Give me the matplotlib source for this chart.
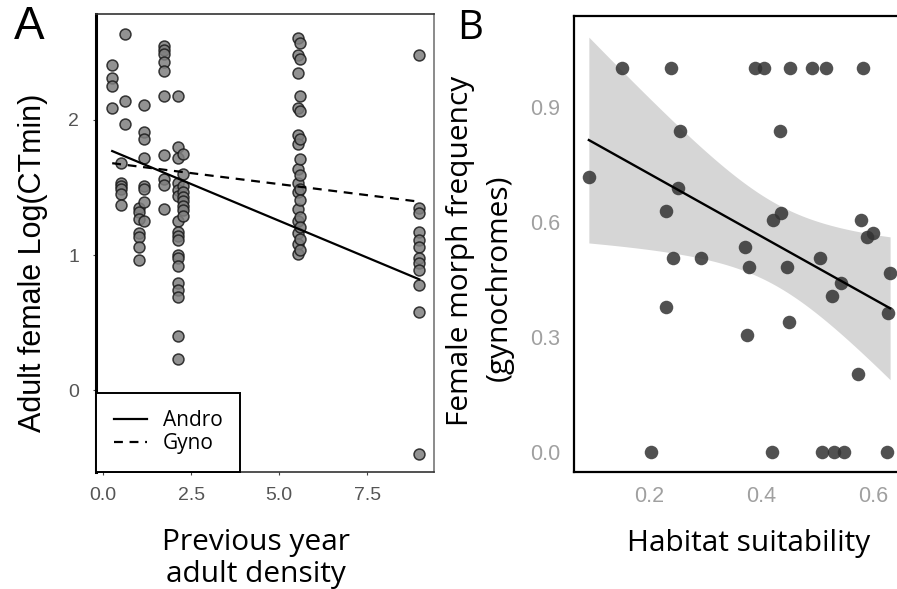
import matplotlib
matplotlib.use("Agg")
import matplotlib.pyplot as plt
from matplotlib.lines import Line2D
import numpy as np

# ---- panel A: previous year density vs Log(CTmin) ----
dens_cols = [0.25, 0.51, 0.61, 1.01, 1.17, 1.74, 2.12, 2.28, 5.53, 5.6, 8.96]
ctmin_cols = [
    [2.41, 2.31, 2.25, 2.09],
    [1.68, 1.53, 1.51, 1.49, 1.45, 1.37],
    [2.64, 2.14, 1.97],
    [1.35, 1.32, 1.27, 1.16, 1.13, 1.06, 0.96],
    [2.11, 1.91, 1.86, 1.72, 1.51, 1.49, 1.39, 1.25],
    [2.55, 2.52, 2.49, 2.43, 2.36, 2.18, 1.74, 1.56, 1.52, 1.34],
    [2.18, 1.80, 1.72, 1.53, 1.48, 1.44, 1.25, 1.17, 1.14, 1.11, 1.00, 0.98,
     0.92, 0.79, 0.74, 0.69, 0.40, 0.23],
    [1.75, 1.60, 1.51, 1.47, 1.43, 1.40, 1.36, 1.33, 1.29],
    [2.605, 2.48, 2.35, 2.09, 1.89, 1.82, 1.64, 1.53, 1.47, 1.34, 1.25, 1.16,
     1.08, 1.01],
    [2.57, 2.45, 2.18, 2.07, 1.86, 1.71, 1.59, 1.49, 1.41, 1.28, 1.21, 1.12,
     1.04],
    [2.48, 1.35, 1.31, 1.17, 1.11, 1.06, 0.98, 0.94, 0.89, 0.78, 0.58, -0.47],
]
# fitted morph lines (ends)
fit_x = [0.26, 8.98]
andro_y = [1.77, 0.82]
gyno_y = [1.68, 1.395]

# ---- panel B: habitat suitability vs gynochrome frequency ----
habitat = [0.151, 0.238, 0.389, 0.405, 0.451, 0.491, 0.515, 0.582,
           0.255, 0.433, 0.092, 0.252, 0.229, 0.435, 0.420, 0.578,
           0.599, 0.588, 0.243, 0.292, 0.371, 0.378, 0.446, 0.505,
           0.630, 0.542, 0.527, 0.229, 0.627, 0.449, 0.374, 0.572,
           0.203, 0.419, 0.508, 0.530, 0.548, 0.625]
gyno_freq = [1.0, 1.0, 1.0, 1.0, 1.0, 1.0, 1.0, 1.0,
             0.837, 0.837, 0.717, 0.687, 0.629, 0.622, 0.605, 0.605,
             0.570, 0.559, 0.504, 0.504, 0.533, 0.481, 0.483, 0.504,
             0.465, 0.441, 0.406, 0.378, 0.361, 0.337, 0.304, 0.203,
             0.0, 0.0, 0.0, 0.0, 0.0, 0.0]
# model line ends as drawn in the figure
fitB_x = [0.092, 0.630]
fitB_y = [0.813, 0.374]

W, H = 897, 589
fig = plt.figure(figsize=(W / 100, H / 100), dpi=100)
lab_font = "Open Sans"
tick_font = "Liberation Sans"
lab_size = 21.5

# panel A
axA = fig.add_axes([96 / W, 1 - 472 / H, 338 / W, 458 / H])
for x, ys in zip(dens_cols, ctmin_cols):
    axA.scatter([x] * len(ys), ys, s=62, facecolor="#7f7f7f", edgecolor="#1a1a1a",
                linewidths=1.1, alpha=0.85, zorder=3)
axA.plot(fit_x, andro_y, color="black", lw=1.6, zorder=4)
axA.plot(fit_x, gyno_y, color="black", lw=1.6, ls=(0, (4, 3)), zorder=4)
axA.set_xlim(-0.2, 9.4)
axA.set_ylim(-0.607, 2.785)
axA.set_xticks([0, 2.5, 5, 7.5])
axA.set_xticklabels(["0.0", "2.5", "5.0", "7.5"])
axA.set_yticks([0, 1, 2])
axA.tick_params(length=2, width=0.8, color="#444", labelsize=14, labelcolor="#555")
axA.tick_params(axis="y", pad=10)
axA.tick_params(axis="x", pad=9)
for lbl in axA.get_xticklabels() + axA.get_yticklabels():
    lbl.set_fontfamily(tick_font)
axA.spines["left"].set_linewidth(2.2)
axA.spines["left"].set_color("black")
for sp in ["top", "bottom"]:
    axA.spines[sp].set_linewidth(1.2)
    axA.spines[sp].set_color("#333")
axA.spines["right"].set_linewidth(1.2)
axA.spines["right"].set_color("#777")
fig.text(33 / W, 1 - 263 / H, "Adult female Log(CTmin)", fontsize=22, family=tick_font,
         rotation=90, ha="center", va="center")
fig.text(255.5 / W, 1 - 550 / H, "Previous year", fontsize=lab_size, family=lab_font,
         ha="center", va="baseline")
fig.text(255.5 / W, 1 - 582 / H, "adult density", fontsize=lab_size, family=lab_font,
         ha="center", va="baseline")
handles = [Line2D([], [], color="black", lw=1.6),
           Line2D([], [], color="black", lw=1.6, ls=(0, (4, 3)))]
leg = axA.legend(handles, ["Andro", "Gyno"], loc="lower left", bbox_to_anchor=(0, 0),
                 borderaxespad=0, fancybox=False, edgecolor="black", framealpha=1,
                 prop={"family": lab_font, "size": 15}, handlelength=1.6,
                 borderpad=0.85, labelspacing=0.1, handletextpad=0.75)
leg.get_frame().set_linewidth(1.4)
fig.text(29 / W, 1 - 27 / H, "A", fontsize=33, family=tick_font, ha="center", va="center")

# panel B (right edge cropped by the figure like the original)
axB = fig.add_axes([574.3 / W, 1 - 472.3 / H, (905 - 574.3) / W, 456.6 / H])
hx = np.array(habitat)
hy = np.array(gyno_freq)
slope = (fitB_y[1] - fitB_y[0]) / (fitB_x[1] - fitB_x[0])
icpt = fitB_y[0] - slope * fitB_x[0]
n = len(hx)
resid = hy - (icpt + slope * hx)
s_err = np.sqrt(np.sum(resid ** 2) / (n - 2))
xs = np.linspace(fitB_x[0], fitB_x[1], 100)
se = s_err * np.sqrt(1 / n + (xs - hx.mean()) ** 2 / np.sum((hx - hx.mean()) ** 2))
t_val = 2.028
axB.fill_between(xs, icpt + slope * xs - t_val * se, icpt + slope * xs + t_val * se,
                 color="#d6d6d6", lw=0, zorder=1)
axB.scatter(hx, hy, s=95, color="#333333", alpha=0.85, lw=0, zorder=3)
axB.plot(xs, icpt + slope * xs, color="black", lw=1.7, zorder=4)
axB.set_xlim(0.066, 0.6566)
axB.set_ylim(-0.054, 1.1375)
axB.set_xticks([0.2, 0.4, 0.6])
axB.set_yticks([0.0, 0.3, 0.6, 0.9])
axB.tick_params(length=0, labelsize=15.5, labelcolor="#a0a0a0", pad=10)
for lbl in axB.get_xticklabels() + axB.get_yticklabels():
    lbl.set_fontfamily(tick_font)
for sp in ["left", "bottom", "top"]:
    axB.spines[sp].set_linewidth(1.6)
    axB.spines[sp].set_color("black")
axB.spines["right"].set_visible(False)
fig.text(460.5 / W, 1 - 251 / H, "Female morph frequency", fontsize=lab_size,
         family=lab_font, rotation=90, ha="center", va="center")
fig.text(499.5 / W, 1 - 278 / H, "(gynochromes)", fontsize=lab_size,
         family=lab_font, rotation=90, ha="center", va="center")
fig.text(748.5 / W, 1 - 551 / H, "Habitat suitability", fontsize=lab_size,
         family=lab_font, ha="center", va="baseline")
fig.text(470 / W, 1 - 28.5 / H, "B", fontsize=29, family=lab_font, ha="center", va="center")

fig.savefig("out.png", dpi=100)
